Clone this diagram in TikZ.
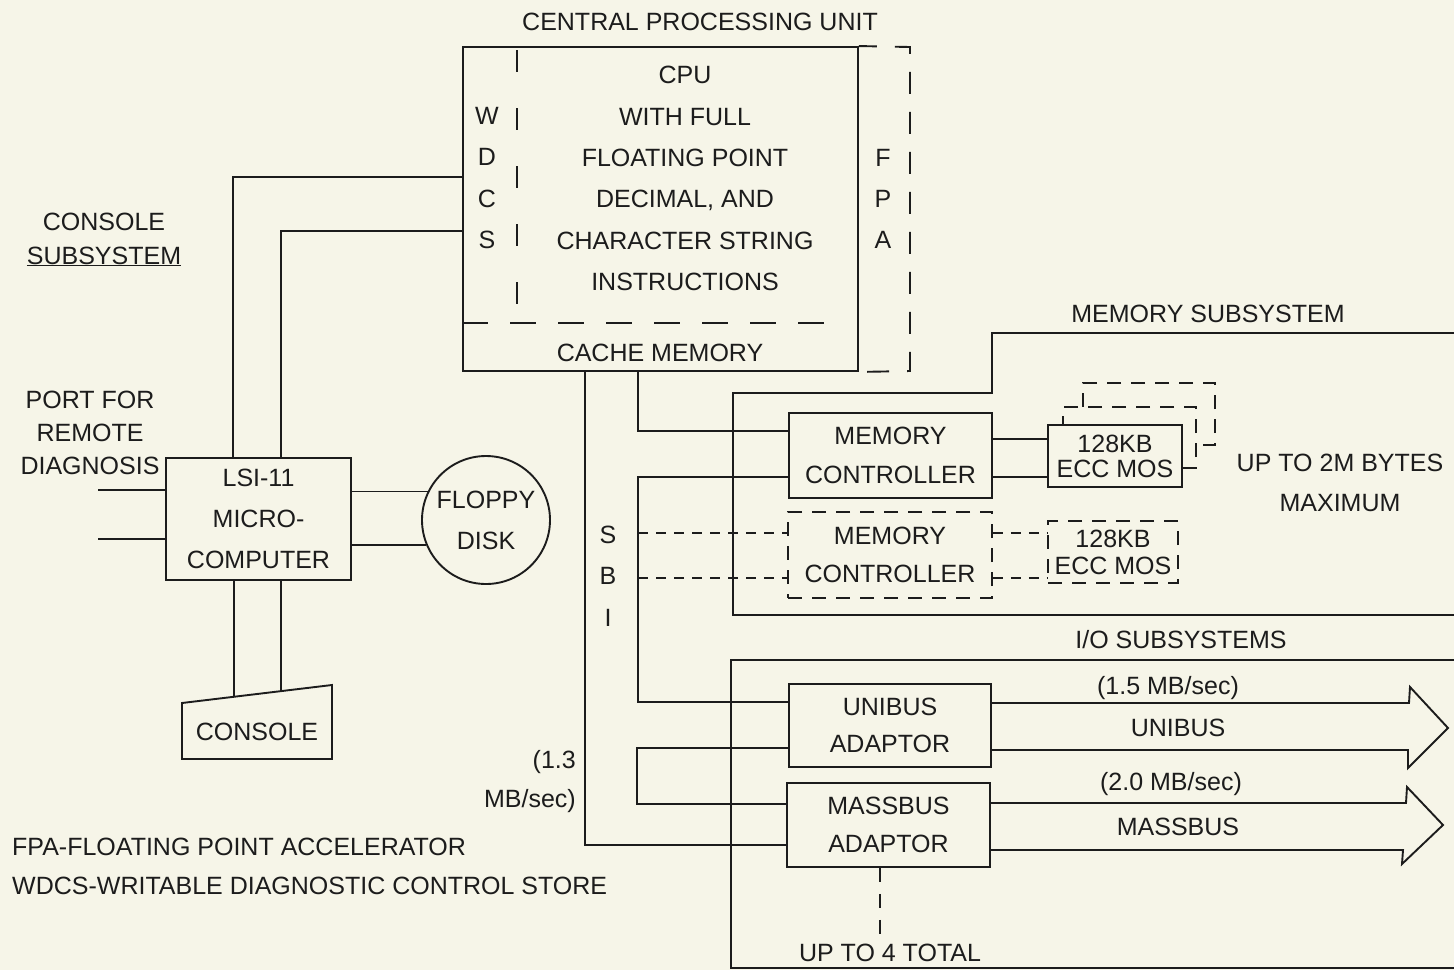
\documentclass[tikz,border=0pt]{standalone}
\usepackage{fontspec}
\setmainfont{Liberation Sans}
\newcommand\myfs[1]{\fontsize{25}{#1}\selectfont}
\definecolor{paper}{RGB}{246,245,232}
\definecolor{ink}{RGB}{28,28,28}
\tikzset{
  wire/.style={draw=ink, line width=1.9pt},
  dwire/.style={wire, dash pattern=on 10pt off 8pt},
  box/.style={draw=ink, line width=1.9pt, fill=paper, inner sep=0pt, align=center, text=ink, font=\myfs{30}},
  dbox/.style={box, dash pattern=on 14pt off 10pt},
  lbl/.style={inner sep=0pt, align=center, text=ink, font=\myfs{30}},
}
\begin{document}
\begin{tikzpicture}[x=1pt,y=-1pt]
\useasboundingbox (0,0) rectangle (1454,970);
\fill[paper] (0,0) rectangle (1454,970);

% ---------------- CPU ----------------
\node[lbl] (title) at (700,22) {CENTRAL PROCESSING UNIT};
\node[box, minimum width=395pt, minimum height=324pt] (cpu) at (660.5,209) {};
\draw[wire, dash pattern=on 22pt off 18pt, dash phase=4pt] (cpu.north east) -- (910,47) -- (910,371) -- (cpu.south east);
\draw[wire, dash pattern=on 22pt off 36pt] (517,50) -- (517,312);
\draw[wire, dash pattern=on 26pt off 22pt] (cpu.west |- 0,323) -- (830,323);
\node[lbl, font=\myfs{41.4}] (cputxt) at (685,178.5) {CPU\\WITH FULL\\FLOATING POINT\\DECIMAL, AND\\CHARACTER STRING\\INSTRUCTIONS};
\node[lbl, font=\myfs{41.3}] (wdcs) at (487,178) {W\\D\\C\\S};
\node[lbl, font=\myfs{41}] (fpa) at (883,199) {F\\P\\A};
\node[lbl] (cache) at (660,353) {CACHE MEMORY};

% ---------------- console subsystem ----------------
\node[lbl] (consub) at (104,222) {CONSOLE};
\node[lbl, anchor=base] (subsys) at (104,264) {\underline{SUBSYSTEM}};
\node[lbl, font=\myfs{33}] (port) at (90,433) {PORT FOR\\REMOTE\\DIAGNOSIS};
\node[box, minimum width=185pt, minimum height=122pt, font=\myfs{41}] (lsi) at (258.5,519) {LSI-11\\MICRO-\\COMPUTER};
\node[box, circle, minimum size=128pt, font=\myfs{41}] (floppy) at (486,520) {FLOPPY\\DISK};
\node[lbl] (console) at (257,732) {CONSOLE};
\coordinate (ctl) at (182,703);
\coordinate (ctr) at (332,685);
\coordinate (cbr) at (332,759);
\coordinate (cbl) at (182,759);
\draw[wire, line join=miter] (ctl) -- (ctr) -- (cbr) -- (cbl) -- cycle;
\coordinate (c1) at (234,696.8);
\coordinate (c2) at (281,691.1);
\draw[wire] (lsi.south -| c1) -- (c1);
\draw[wire] (lsi.south -| c2) -- (c2);
\coordinate (pa) at (98,490);
\coordinate (pb) at (98,539);
\draw[wire] (pa) -- (lsi.west |- pa);
\draw[wire] (pb) -- (lsi.west |- pb);
\draw[wire] (cpu.west |- 0,177) -| (lsi.north -| 233,0);
\draw[wire] (cpu.west |- 0,231) -| (lsi.north -| 281,0);
\draw[wire] (floppy.154) -- (lsi.east |- floppy.154);
\draw[wire] (floppy.203) -- (lsi.east |- floppy.203);

% ---------------- memory subsystem ----------------
\node[lbl] (memsub) at (1208,314) {MEMORY SUBSYSTEM};
\draw[wire] (1454,333) -- (992,333) -- (992,393) -- (733,393) -- (733,615) -- (1454,615);
\node[box, minimum width=203pt, minimum height=85pt, font=\myfs{39}] (mc1) at (890.5,455.5) {MEMORY\\CONTROLLER};
\node[dbox, minimum width=204pt, minimum height=86pt, font=\myfs{38}] (mc2) at (890,555) {MEMORY\\CONTROLLER};
\node[dbox, minimum width=132pt, minimum height=62pt] (ecc1c) at (1149,414) {};
\node[dbox, minimum width=133pt, minimum height=61pt] (ecc1b) at (1129.5,437.5) {};
\node[box, minimum width=134pt, minimum height=62pt, font=\myfs{25}] (ecc1) at (1115,456) {128KB\\ECC MOS};
\node[dbox, minimum width=130pt, minimum height=62pt, font=\myfs{27}] (ecc2) at (1113,552) {128KB\\ECC MOS};
\node[lbl, font=\myfs{40}] (upto) at (1340,483) {UP TO 2M BYTES\\MAXIMUM};
\draw[wire] (mc1.east |- 0,439) -- (ecc1.west |- 0,439);
\draw[wire] (mc1.east |- 0,477) -- (ecc1.west |- 0,477);
\draw[dwire] (mc2.east |- 0,533) -- (ecc2.west |- 0,533);
\draw[dwire] (mc2.east |- 0,578) -- (ecc2.west |- 0,578);

% ---------------- SBI ----------------
\node[lbl, font=\myfs{41.5}] (sbi) at (608,576) {S\\B\\I};
\coordinate (sbis) at (638,533);
\coordinate (sbib) at (638,578);
\draw[wire] (cpu.south -| 638,0) |- (mc1.west |- 0,431);
\draw[dwire] (sbis) -- (mc2.west |- sbis);
\draw[dwire] (sbib) -- (mc2.west |- sbib);

% ---------------- I/O subsystems ----------------
\node[lbl] (iosub) at (1181,640) {I/O SUBSYSTEMS};
\draw[wire] (1454,660) -- (731,660) -- (731,968) -- (1454,968);
\node[box, minimum width=202pt, minimum height=83pt, font=\myfs{37}] (uba) at (890,725.5) {UNIBUS\\ADAPTOR};
\node[box, minimum width=203pt, minimum height=84pt, font=\myfs{38}] (mba) at (888.5,825) {MASSBUS\\ADAPTOR};
\draw[wire] (mc1.west |- 0,477) -| (638,702) -- (uba.west |- 0,702);
\draw[wire] (uba.west |- 0,748) -- (637,748) -- (637,804) -- (mba.west |- 0,804);
\draw[wire] (cpu.south -| 585,0) |- (mba.west |- 0,845);
\node[lbl, anchor=east, align=right, font=\myfs{39}] (rate13) at (576,782) {(1.3\\MB/sec)};

\draw[wire, line join=miter] (uba.east |- 0,703) -- (1409,703) -- (1410,687) -- (1448,728) -- (1408,768) -- (1408,750) -- (uba.east |- 0,750);
\draw[wire, line join=miter] (mba.east |- 0,803) -- (1406,803) -- (1407,787) -- (1443,825) -- (1402,864) -- (1403,850) -- (mba.east |- 0,850);
\node[lbl] (r15) at (1168,688) {(1.5 MB/sec)};
\node[lbl] (unibus) at (1178,728) {UNIBUS};
\node[lbl] (r20) at (1171,784) {(2.0 MB/sec)};
\node[lbl] (massbus) at (1178,827) {MASSBUS};
\coordinate (more) at (880,935);
\draw[wire, dash pattern=on 14pt off 12pt] (mba.south -| more) -- (more);
\node[lbl] (upto4) at (890,953) {UP TO 4 TOTAL};

% ---------------- legend ----------------
\node[lbl, anchor=west, align=left, font=\myfs{39}] (legend) at (12,866) {FPA-FLOATING POINT ACCELERATOR\\WDCS-WRITABLE DIAGNOSTIC CONTROL STORE};
\end{tikzpicture}
\end{document}
